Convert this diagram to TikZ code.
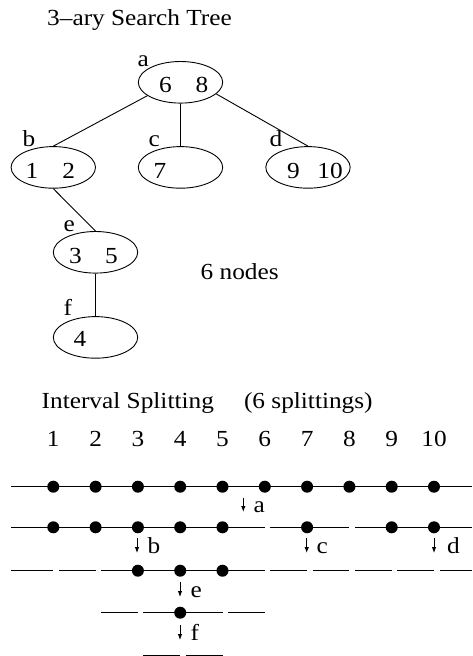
\documentclass[tikz,border=0pt]{standalone}
\usepackage{fontspec}
\setmainfont{Liberation Serif}
\usetikzlibrary{shapes.geometric,arrows.meta}
\begin{document}
\begin{tikzpicture}[x=1pt,y=-1pt,
  txt/.style={font=\fontsize{23}{27}\selectfont, inner sep=0pt, xscale=1.1, anchor=base west},
  tnode/.style={draw, ellipse, minimum width=84.4pt, minimum height=41.6pt, inner sep=0pt, line width=0.9pt},
  edge/.style={line width=0.9pt},
  seg/.style={line width=0.9pt},
  dot/.style={circle, fill=black, minimum size=12pt, inner sep=0pt},
  splitarrow/.style={line width=0.9pt, -{Latex[length=6pt,width=4.5pt]}}
]
\useasboundingbox (0,0) rectangle (473,656);

% ---------- titles ----------
\node[txt] (title1) at (47,25) {3--ary Search Tree};
\node[txt] (nodes) at (200.5,279) {6 nodes};
\node[txt] (title2) at (41.5,408.3) {Interval Splitting};
\node[txt] (title2b) at (243.8,408.3) {(6 splittings)};

% ---------- tree ----------
\node[tnode] (a) at (180.5,82.3) {};
\node[tnode] (b) at (53.3,167.4) {};
\node[tnode] (c) at (180.5,167.4) {};
\node[tnode] (d) at (308,167.4) {};
\node[tnode] (e) at (95.5,252.3) {};
\node[tnode] (f) at (95.5,337.4) {};

\node[txt] (ta) at (159,92.7) {6\hspace{21.7pt}8};
\node[txt] (tb) at (25.3,178.3) {1\hspace{22pt}2};
\node[txt] (tc) at (153.5,178.3) {7};
\node[txt] (td) at (287,178.3) {9\hspace{16pt}10};
\node[txt] (te) at (69,263.3) {3\hspace{21.2pt}5};
\node[txt] (tf) at (73.5,346.7) {4};

\node[txt] (la) at (137.3,66.5) {a};
\node[txt] (lb) at (22.5,146.5) {b};
\node[txt] (lc) at (148.5,146.5) {c};
\node[txt] (ld) at (269.5,146.5) {d};
\node[txt] (le) at (63.5,231.5) {e};
\node[txt] (lf) at (63.5,315.5) {f};

\draw[edge] (a.202) -- (b.north);
\draw[edge] (a.south) -- (c.north);
\draw[edge] (a.342) -- (d.north);
\draw[edge] (b.south) -- (e.north);
\draw[edge] (e.south) -- (f.north);

% ---------- interval splitting ----------
\foreach \i/\xx in {1/53.3,2/95.6,3/137.9,4/180.2,5/222.5,6/264.8,7/307.1,8/349.4,9/391.7,10/434.0}{
  \node[txt, anchor=base] (n\i) at (\xx,446.7) {\i};
}

% line 1
\draw[seg] (11,486.7) -- (472,486.7);
\foreach \i/\xx in {1/53.3,2/95.6,3/137.9,4/180.2,5/222.5,6/264.8,7/307.1,8/349.4,9/391.7,10/434.0}{
  \node[dot] (p\i) at (\xx,486.7) {};
}
\draw[splitarrow] (243.3,497.5) -- (243.3,512);
\node[txt] (sa) at (253.3,512) {a};

% line 2
\draw[seg] (11,527.3) -- (264.8,527.3);
\draw[seg] (270.3,527.3) -- (349.4,527.3);
\draw[seg] (354.9,527.3) -- (472,527.3);
\foreach \i/\xx in {1/53.3,2/95.6,3/137.9,4/180.2,5/222.5,7/307.1,9/391.7,10/434.0}{
  \node[dot] (q\i) at (\xx,527.3) {};
}
\draw[splitarrow] (137,538) -- (137,553);
\node[txt] (sb) at (147.5,553) {b};
\draw[splitarrow] (306.7,538) -- (306.7,553);
\node[txt] (sc) at (316.5,553) {c};
\draw[splitarrow] (434,538) -- (434,553);
\node[txt] (sd) at (447,553) {d};

% line 3
\draw[seg] (11,570.7) -- (53.3,570.7);
\draw[seg] (58.8,570.7) -- (95.6,570.7);
\draw[seg] (101.1,570.7) -- (264.8,570.7);
\draw[seg] (270.3,570.7) -- (307.1,570.7);
\draw[seg] (312.6,570.7) -- (349.4,570.7);
\draw[seg] (354.9,570.7) -- (391.7,570.7);
\draw[seg] (397.2,570.7) -- (434,570.7);
\draw[seg] (439.5,570.7) -- (472,570.7);
\foreach \i/\xx in {3/137.9,4/180.2,5/222.5}{
  \node[dot] (r\i) at (\xx,570.7) {};
}
\draw[splitarrow] (180,582) -- (180,597);
\node[txt] (se) at (190.5,597) {e};

% line 4
\draw[seg] (101.1,612.7) -- (137.9,612.7);
\draw[seg] (143.4,612.7) -- (222.5,612.7);
\draw[seg] (228,612.7) -- (264.8,612.7);
\node[dot] (s4) at (180.2,612.7) {};
\draw[splitarrow] (180,625) -- (180,640);
\node[txt] (sf) at (190.5,640) {f};

% line 5
\draw[seg] (143.4,655) -- (180.2,655);
\draw[seg] (185.7,655) -- (222.5,655);
\end{tikzpicture}
\end{document}
